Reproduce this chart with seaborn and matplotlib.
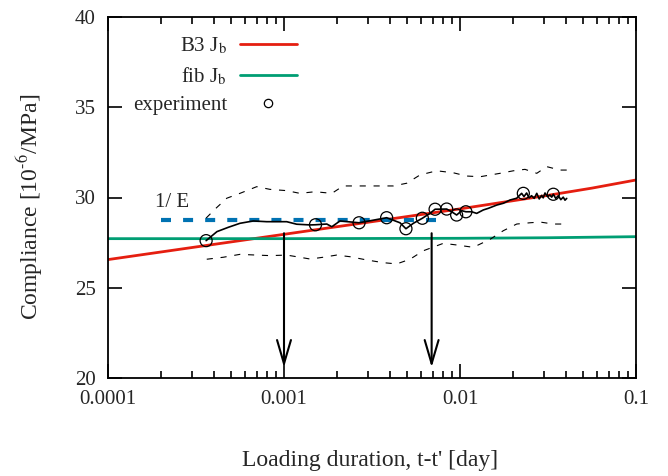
import numpy as np
import pandas as pd
import matplotlib
matplotlib.use("Agg")
import matplotlib.pyplot as plt
from matplotlib.lines import Line2D
import matplotlib.ticker as mticker
import seaborn as sns

# ---------------- data ----------------
b3_t = [1e-4, 3.16e-4, 1e-3, 3.16e-3, 1e-2, 3.16e-2, 5.62e-2, 0.1]
b3_j = [26.56, 27.26, 27.96, 28.66, 29.37, 30.12, 30.52, 30.97]

fib_t = [1e-4, 1e-3, 1e-2, 3.16e-2, 0.1]
fib_j = [27.72, 27.72, 27.74, 27.77, 27.83]

inv_e_t = [2.0e-4, 7.7e-3]
inv_e_j = [28.75, 28.75]

exp_t = [3.61e-4, 4.16e-4, 4.83e-4, 5.62e-4, 6.69e-4, 7.97e-4, 1.036e-3, 1.18e-3,
         1.41e-3, 1.51e-3, 1.75e-3, 1.87e-3, 2.08e-3, 2.67e-3, 3.08e-3, 3.83e-3,
         4.56e-3, 4.93e-3, 5.43e-3, 6.11e-3, 6.75e-3, 7.22e-3, 8.4e-3, 8.97e-3,
         9.57e-3, 1.023e-2, 1.08e-2, 1.165e-2, 1.244e-2, 1.356e-2, 1.449e-2,
         1.616e-2, 1.762e-2, 1.923e-2, 2.10e-2, 2.17e-2, 2.24e-2, 2.31e-2, 2.39e-2,
         2.47e-2, 2.55e-2, 2.64e-2, 2.73e-2, 2.82e-2, 2.91e-2, 2.97e-2, 3.04e-2,
         3.14e-2, 3.24e-2, 3.32e-2, 3.39e-2, 3.50e-2, 3.62e-2, 3.74e-2, 3.86e-2,
         3.95e-2, 4.04e-2]
exp_j = [27.61, 28.11, 28.35, 28.57, 28.70, 28.66, 28.66, 28.52,
         28.48, 28.49, 28.53, 28.38, 28.70, 28.60, 28.71, 28.88,
         28.60, 28.27, 28.57, 28.85, 29.12, 29.35, 29.36, 29.21,
         29.03, 29.27, 29.21, 29.21, 29.12, 29.31, 29.40,
         29.58, 29.68, 29.86, 29.96, 30.10, 30.23, 30.05, 30.25,
         29.98, 30.10, 29.95, 30.23, 29.92, 30.12, 29.98, 30.25,
         30.05, 30.14, 30.02, 30.18, 29.95, 30.10, 29.88, 30.02,
         29.85, 29.95]

circ_t = [3.61e-4, 1.51e-3, 2.67e-3, 3.83e-3, 4.93e-3, 6.11e-3, 7.22e-3, 8.4e-3,
          9.57e-3, 1.08e-2, 2.29e-2, 3.39e-2]
circ_j = [27.61, 28.49, 28.60, 28.88, 28.27, 28.85, 29.35, 29.36,
          29.03, 29.21, 30.23, 30.18]

up_t = [3.61e-4, 4.06e-4, 4.73e-4, 5.62e-4, 7.0e-4, 8.33e-4, 1.036e-3, 1.23e-3,
        1.50e-3, 1.87e-3, 2.17e-3, 4.18e-3, 4.98e-3, 5.93e-3, 7.37e-3, 9.16e-3,
        1.09e-2, 1.30e-2, 1.69e-2, 2.01e-2, 2.34e-2, 2.73e-2, 3.11e-2, 3.70e-2, 4.05e-2]
up_j = [28.86, 29.36, 29.96, 30.23, 30.60, 30.45, 30.38, 30.23,
        30.32, 30.23, 30.64, 30.64, 30.79, 31.25, 31.48, 31.37,
        31.19, 31.15, 31.34, 31.48, 31.56, 31.34, 31.71, 31.52, 31.52]

lo_t = [3.64e-4, 4.52e-4, 5.62e-4, 7.0e-4, 8.33e-4, 1.036e-3, 1.23e-3, 1.41e-3,
        1.67e-3, 1.99e-3, 2.37e-3, 2.95e-3, 3.66e-3, 4.37e-3, 5.20e-3, 6.19e-3,
        8.04e-3, 9.57e-3, 1.19e-2, 1.48e-2, 1.762e-2, 2.10e-2, 2.50e-2, 2.85e-2,
        3.39e-2, 4.04e-2]
lo_j = [26.58, 26.69, 26.85, 26.81, 26.78, 26.81, 26.69, 26.59,
        26.69, 26.81, 26.72, 26.54, 26.39, 26.32, 26.58, 27.05,
        27.46, 27.37, 27.24, 27.68, 28.16, 28.53, 28.60, 28.64,
        28.53, 28.53]

arrow_t = [1.0e-3, 6.9e-3]
arrow_top = 28.02
arrow_tip = 20.59

x_ticks = [1e-4, 1e-3, 1e-2, 1e-1]
x_tick_labels = ["0.0001", "0.001", "0.01", "0.1"]
y_ticks = [20, 25, 30, 35, 40]

# ---------------- style ----------------
sns.set_theme(style="ticks")
plt.rcParams["font.family"] = ["Liberation Serif", "DejaVu Serif"]
plt.rcParams["mathtext.fontset"] = "stix"

RED = "#e51e10"
GREEN = "#009e73"
BLUE = "#0072b2"

fig = plt.figure(figsize=(6.68, 4.76), dpi=100)
ax = fig.add_axes([108 / 668, 1 - 378 / 476, 528 / 668, 361 / 476])

sns.lineplot(x=b3_t, y=b3_j, ax=ax, color=RED, lw=2.0, sort=False)
sns.lineplot(x=fib_t, y=fib_j, ax=ax, color=GREEN, lw=2.0, sort=False)
sns.lineplot(x=inv_e_t, y=inv_e_j, ax=ax, color=BLUE, lw=3.0, sort=False)
ax.lines[-1].set_dashes((2.4, 2.9))
sns.lineplot(x=up_t, y=up_j, ax=ax, color="black", lw=0.8, sort=False)
ax.lines[-1].set_dashes((5.5, 7))
sns.lineplot(x=lo_t, y=lo_j, ax=ax, color="black", lw=0.8, sort=False)
ax.lines[-1].set_dashes((5.5, 7))
sns.lineplot(x=exp_t, y=exp_j, ax=ax, color="black", lw=1.2, sort=False)
sns.scatterplot(x=circ_t, y=circ_j, ax=ax, s=75, facecolor="none",
                edgecolor="black", linewidth=0.9, zorder=5)

for xt in arrow_t:
    ax.annotate("", xy=(xt, arrow_tip), xytext=(xt, arrow_top),
                arrowprops=dict(arrowstyle="->,head_length=1.7,head_width=0.5",
                                color="black", lw=1.5, shrinkA=0, shrinkB=0,
                                mutation_scale=10))

ax.text(1.85e-4, 29.75, "1/ E", fontsize=15, ha="left", va="center")

ax.set_xscale("log")
ax.set_xlim(1e-4, 0.1)
ax.set_ylim(20, 40)
ax.set_xticks(x_ticks)
ax.set_xticklabels(x_tick_labels)
ax.xaxis.set_minor_locator(mticker.LogLocator(base=10, subs=np.arange(2, 10)))
ax.xaxis.set_minor_formatter(mticker.NullFormatter())
ax.set_yticks(y_ticks)
ax.tick_params(which="both", direction="in", top=True, right=True, labelsize=15,
               width=1.2, color="black")
ax.tick_params(which="major", length=10, pad=9)
ax.tick_params(which="minor", length=5)
for s in ax.spines.values():
    s.set_linewidth(1.3)
    s.set_color("black")

ax.set_xlabel("Loading duration, t-t' [day]", fontsize=17)
ax.set_ylabel(r"Compliance [10$^{\text{-6}}$/MPa]", fontsize=17)
ax.xaxis.set_label_coords(0.497, -0.2)
ax.yaxis.set_label_coords(-0.119, 0.474)

handles = [Line2D([], [], color=RED, lw=2.0),
           Line2D([], [], color=GREEN, lw=2.0),
           Line2D([], [], color="black", lw=0, marker="o", ms=6,
                  mfc="none", mec="black", mew=0.9)]
labels = [r"B3 J$_\mathrm{b}$", r"fib J$_\mathrm{b}$", "experiment"]
ax.legend(handles, labels, loc="upper right",
          bbox_to_anchor=(297 / 668, 1 - 36 / 476), bbox_transform=fig.transFigure,
          frameon=False, markerfirst=False, handlelength=2.75, handletextpad=0.6,
          labelspacing=0.42, borderpad=0, borderaxespad=0, fontsize=15)

fig.savefig("out.png", dpi=100)
